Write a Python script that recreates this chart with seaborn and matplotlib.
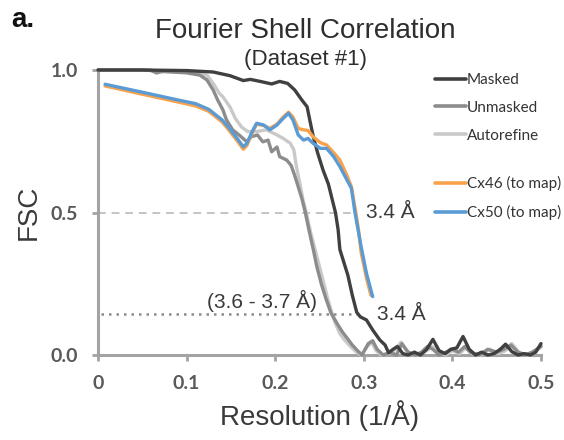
import matplotlib
matplotlib.use("Agg")
import matplotlib.pyplot as plt
from matplotlib.lines import Line2D
import seaborn as sns
import pandas as pd

# FSC curves as (resolution 1/Å, correlation) pairs
masked = [
    (0.000, 1.000), (0.050, 1.000), (0.100, 0.998), (0.130, 0.993), (0.149, 0.980),
    (0.164, 0.963), (0.172, 0.967), (0.183, 0.960), (0.196, 0.951), (0.205, 0.960),
    (0.214, 0.953), (0.222, 0.930), (0.230, 0.895), (0.236, 0.871), (0.239, 0.825),
    (0.243, 0.766), (0.248, 0.708), (0.254, 0.649), (0.260, 0.600), (0.264, 0.550),
    (0.268, 0.500), (0.271, 0.440), (0.273, 0.370), (0.277, 0.330), (0.282, 0.280),
    (0.287, 0.210), (0.292, 0.150), (0.296, 0.134), (0.303, 0.123), (0.310, 0.088),
    (0.318, 0.053), (0.324, 0.035), (0.328, 0.008), (0.333, 0.020), (0.338, 0.030),
    (0.344, 0.005), (0.350, 0.000), (0.357, 0.010), (0.364, 0.000), (0.371, 0.020),
    (0.378, 0.055), (0.385, 0.015), (0.392, 0.005), (0.398, 0.020), (0.405, 0.025),
    (0.412, 0.065), (0.419, 0.020), (0.426, 0.000), (0.433, 0.010), (0.440, 0.000),
    (0.447, 0.005), (0.454, 0.020), (0.460, 0.038), (0.467, 0.012), (0.474, 0.000),
    (0.481, 0.005), (0.488, 0.000), (0.494, 0.010), (0.500, 0.040),
]

unmasked = [
    (0.000, 1.000), (0.050, 1.000), (0.060, 0.998), (0.066, 0.990), (0.072, 0.995),
    (0.100, 0.990), (0.115, 0.982), (0.123, 0.965), (0.130, 0.930), (0.135, 0.895),
    (0.141, 0.860), (0.145, 0.825), (0.152, 0.790), (0.160, 0.770), (0.168, 0.748),
    (0.173, 0.766), (0.180, 0.772), (0.186, 0.748), (0.192, 0.754), (0.196, 0.713),
    (0.202, 0.730), (0.205, 0.696), (0.213, 0.684), (0.218, 0.665), (0.222, 0.630),
    (0.226, 0.590), (0.230, 0.550), (0.234, 0.500), (0.238, 0.440), (0.243, 0.370),
    (0.247, 0.310), (0.252, 0.250), (0.257, 0.200), (0.263, 0.147), (0.270, 0.110),
    (0.276, 0.080), (0.281, 0.060), (0.287, 0.035), (0.293, 0.015), (0.298, 0.000),
    (0.305, 0.040), (0.310, 0.050), (0.315, 0.020), (0.322, 0.000), (0.330, 0.010),
    (0.337, 0.000), (0.343, 0.040), (0.350, 0.010), (0.358, 0.000), (0.365, 0.010),
    (0.372, 0.030), (0.378, 0.020), (0.385, 0.000), (0.393, 0.010), (0.400, 0.020),
    (0.407, 0.010), (0.414, 0.030), (0.420, 0.010), (0.430, 0.000), (0.440, 0.020),
    (0.450, 0.010), (0.458, 0.020), (0.466, 0.035), (0.474, 0.010), (0.482, 0.000),
    (0.490, 0.010), (0.500, 0.030),
]

autorefine = [
    (0.000, 1.000), (0.060, 1.000), (0.066, 0.990), (0.075, 0.995), (0.110, 0.990),
    (0.123, 0.982), (0.130, 0.953), (0.137, 0.918), (0.141, 0.906), (0.149, 0.870),
    (0.155, 0.830), (0.162, 0.800), (0.169, 0.784), (0.179, 0.784), (0.190, 0.790),
    (0.202, 0.772), (0.209, 0.760), (0.217, 0.743), (0.221, 0.720), (0.224, 0.660),
    (0.228, 0.600), (0.231, 0.550), (0.235, 0.500), (0.240, 0.430), (0.245, 0.370),
    (0.250, 0.310), (0.255, 0.250), (0.259, 0.200), (0.264, 0.147), (0.268, 0.110),
    (0.273, 0.075), (0.279, 0.050), (0.285, 0.030), (0.291, 0.012), (0.297, 0.000),
    (0.304, 0.030), (0.309, 0.045), (0.314, 0.015), (0.320, 0.000), (0.328, 0.005),
    (0.336, 0.020), (0.342, 0.045), (0.348, 0.015), (0.356, 0.000), (0.364, 0.005),
    (0.371, 0.015), (0.377, 0.030), (0.384, 0.010), (0.392, 0.000), (0.400, 0.015),
    (0.408, 0.005), (0.415, 0.025), (0.422, 0.005), (0.432, 0.000), (0.442, 0.020),
    (0.452, 0.005), (0.460, 0.015), (0.467, 0.040), (0.475, 0.010), (0.484, 0.000),
    (0.492, 0.005), (0.500, 0.030),
]

cx46 = [
    (0.008, 0.944), (0.050, 0.915), (0.090, 0.888), (0.110, 0.874), (0.125, 0.855),
    (0.140, 0.818), (0.147, 0.792), (0.157, 0.752), (0.164, 0.722), (0.168, 0.735),
    (0.174, 0.780), (0.179, 0.810), (0.187, 0.805), (0.194, 0.795), (0.202, 0.810),
    (0.209, 0.835), (0.215, 0.852), (0.220, 0.835), (0.226, 0.795), (0.232, 0.790),
    (0.237, 0.788), (0.243, 0.765), (0.251, 0.745), (0.258, 0.737), (0.266, 0.710),
    (0.273, 0.684), (0.281, 0.630), (0.286, 0.590), (0.291, 0.500), (0.294, 0.440),
    (0.297, 0.360), (0.303, 0.270), (0.308, 0.210),
]

cx50 = [
    (0.008, 0.950), (0.050, 0.922), (0.090, 0.895), (0.110, 0.882), (0.125, 0.862),
    (0.140, 0.825), (0.147, 0.800), (0.157, 0.760), (0.164, 0.731), (0.168, 0.742),
    (0.174, 0.784), (0.179, 0.813), (0.187, 0.807), (0.194, 0.790), (0.202, 0.807),
    (0.209, 0.830), (0.215, 0.848), (0.220, 0.825), (0.226, 0.772), (0.232, 0.754),
    (0.237, 0.760), (0.243, 0.742), (0.251, 0.725), (0.258, 0.725), (0.266, 0.696),
    (0.273, 0.661), (0.281, 0.614), (0.286, 0.585), (0.290, 0.500), (0.297, 0.380),
    (0.303, 0.287), (0.310, 0.205),
]

series_names = ["Autorefine", "Unmasked", "Masked", "Cx46 (to map)", "Cx50 (to map)"]
series_data = [autorefine, unmasked, masked, cx46, cx50]
series_colors = ["#c9c9c9", "#8c8c8c", "#404040", "#f9a24c", "#5b9bd5"]

# FSC cut-offs: gold-standard 0.143 and map-to-model 0.5
threshold_half = 0.5
threshold_gold = 0.143
threshold_extent = 0.292

x_ticks = [0, 0.1, 0.2, 0.3, 0.4, 0.5]
x_tick_labels = ["0", "0.1", "0.2", "0.3", "0.4", "0.5"]
y_ticks = [0.0, 0.5, 1.0]
y_tick_labels = ["0.0", "0.5", "1.0"]

sns.set_theme(style="white")
plt.rcParams["font.family"] = ["Liberation Sans", "DejaVu Sans"]

fig = plt.figure(figsize=(5.64, 4.4), dpi=100)
ax = fig.add_axes([98 / 564, 85 / 440, 443 / 564, 285 / 440])

spine_col = "#a3a3a3"

# reference cut-off lines
ax.hlines(threshold_half, 0, threshold_extent - 0.006, colors="#c4c4c4",
          linestyles=(0, (4, 3)), lw=1.4, zorder=1)
ax.hlines(threshold_gold, 0.003, threshold_extent + 0.004, colors="#8a8a8a",
          linestyles=(0, (1, 2)), lw=1.8, zorder=1)

for name, pts, col in zip(series_names, series_data, series_colors):
    df = pd.DataFrame(pts, columns=["res", "fsc"])
    sns.lineplot(data=df, x="res", y="fsc", ax=ax, color=col, lw=2.4,
                 estimator=None, sort=False, legend=False, clip_on=False,
                 zorder=3)

ax.set_xlim(0, 0.5)
ax.set_ylim(0, 1.0)
ax.set_xticks(x_ticks)
ax.set_xticklabels(x_tick_labels)
ax.set_yticks(y_ticks)
ax.set_yticklabels(y_tick_labels)

for side in ["top", "right"]:
    ax.spines[side].set_visible(False)
for side in ["left", "bottom"]:
    ax.spines[side].set_color(spine_col)
    ax.spines[side].set_linewidth(2.2)
    ax.spines[side].set_zorder(2)

ax.tick_params(axis="both", which="major", direction="out", length=4.5,
               width=2.0, color=spine_col, labelcolor="#595959", labelsize=14)
ax.tick_params(axis="y", pad=10, left=True)
ax.tick_params(axis="x", pad=10, bottom=True)
for lab in ax.get_xticklabels() + ax.get_yticklabels():
    lab.set_fontfamily(["Lato", "DejaVu Sans"])
    lab.set_fontweight("bold")

ax.set_xlabel("Resolution (1/Å)", fontsize=20, color="#3a3a3a", labelpad=6)
ax.set_ylabel("FSC", fontsize=20, color="#3a3a3a", labelpad=6)

# resolution annotations
ax.text(0.302, threshold_half, "3.4 Å", fontsize=15, color="#3a3a3a",
        va="center", ha="left")
ax.text(0.315, threshold_gold, "3.4 Å", fontsize=15, color="#3a3a3a",
        va="center", ha="left")
ax.text(0.185, 0.19, "(3.6 - 3.7 Å)", fontsize=15, color="#3a3a3a",
        va="center", ha="center")

# titles
fig.text(305 / 564, 1 - 38 / 440, "Fourier Shell Correlation", fontsize=20,
         color="#2e2e2e", ha="center", va="baseline")
fig.text(306 / 564, 1 - 65 / 440, "(Dataset #1)", fontsize=16,
         color="#2e2e2e", ha="center", va="baseline")
fig.text(11 / 564, 1 - 27 / 440, "a.", fontsize=20, fontweight="bold",
         color="#111111", ha="left", va="baseline")

# legends: map-based curves, then model-to-map curves
lines_by_name = dict(zip(series_names, series_colors))
group1 = ["Masked", "Unmasked", "Autorefine"]
group2 = ["Cx46 (to map)", "Cx50 (to map)"]
legend_font = {"family": ["Lato", "DejaVu Sans"], "size": 11}
common = dict(frameon=False, handlelength=2.0, handletextpad=0.1,
              labelspacing=0.9, borderpad=0, borderaxespad=0,
              prop=legend_font, labelcolor="#333333",
              bbox_transform=fig.transFigure, loc="upper left")
h1 = [Line2D([], [], color=lines_by_name[n], lw=2.6) for n in group1]
h2 = [Line2D([], [], color=lines_by_name[n], lw=2.6) for n in group2]
leg1 = ax.legend(h1, group1, bbox_to_anchor=(435 / 564, 1 - 73 / 440), **common)
ax.add_artist(leg1)
ax.legend(h2, group2, bbox_to_anchor=(435 / 564, 1 - 176 / 440), **common)

fig.savefig("out.png", dpi=100)
